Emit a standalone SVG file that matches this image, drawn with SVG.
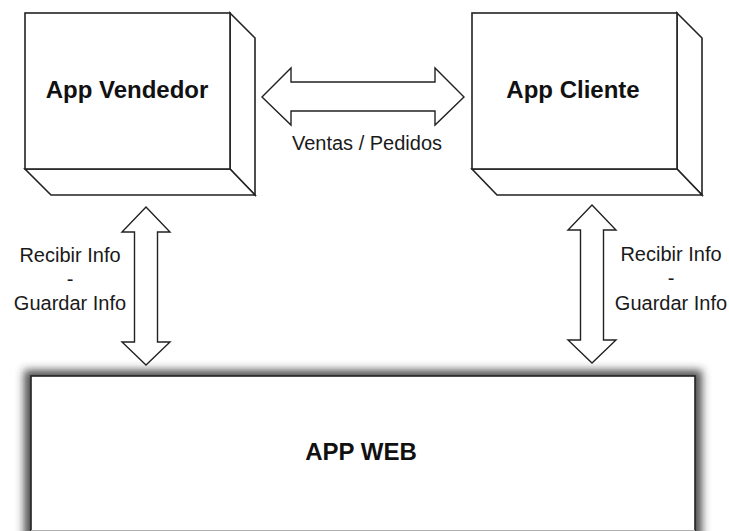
<svg xmlns="http://www.w3.org/2000/svg" width="729" height="531" viewBox="0 0 729 531">
  <style>
    .box { fill: #ffffff; stroke: #222222; stroke-width: 1.6; stroke-linejoin: miter; }
    .arrow { fill: #ffffff; stroke: #222222; stroke-width: 1.4; stroke-linejoin: miter; }
    .title { font-family: "Liberation Sans", Arial, sans-serif; font-weight: bold; font-size: 24px; fill: #111111; text-anchor: middle; }
    .label { font-family: "Liberation Sans", Arial, sans-serif; font-size: 20px; fill: #1a1a1a; text-anchor: middle; }
  </style>
  <defs>
    <filter id="softShadow" x="-10%" y="-30%" width="120%" height="160%">
      <feGaussianBlur stdDeviation="4.5"/>
    </filter>
  </defs>
  <rect width="729" height="531" fill="#ffffff"/>

  <!-- 3D node: seller app -->
  <g id="app-vendedor">
    <polygon class="box" points="230,13 255,38 255,195 230,169"/>
    <polygon class="box" points="25,169 230,169 255,195 51,195"/>
    <rect class="box" x="25" y="13" width="205" height="156"/>
    <text class="title" x="127" y="98">App Vendedor</text>
  </g>

  <!-- 3D node: client app -->
  <g id="app-cliente">
    <polygon class="box" points="677,13 702,38 702,195 677,169"/>
    <polygon class="box" points="472,169 677,169 702,195 497,195"/>
    <rect class="box" x="472" y="13" width="205" height="156"/>
    <text class="title" x="573" y="98">App Cliente</text>
  </g>

  <!-- web application block with drop shadow -->
  <g id="app-web">
    <rect x="24" y="370" width="678" height="175" fill="#333333" fill-opacity="0.85" filter="url(#softShadow)"/>
    <rect class="box" x="31" y="376" width="664" height="170"/>
    <line x1="31" y1="530.5" x2="695" y2="530.5" stroke="#b0b0b0" stroke-width="1"/>
    <text class="title" x="361" y="460">APP WEB</text>
  </g>

  <!-- block arrows between nodes -->
  <g id="connectors">
    <polygon class="arrow" points="262,97 291,68 291,82 435,82 435,68 464,97 435,125 435,111 291,111 291,125"/>
    <polygon class="arrow" points="146,207 170,232 157.5,232 157.5,342 170,342 146,365 122,342 134.5,342 134.5,232 122,232"/>
    <polygon class="arrow" points="592,205 616,230 603.5,230 603.5,340 616,340 592,363 568,340 580.5,340 580.5,230 568,230"/>
  </g>

  <!-- connector labels -->
  <g id="labels">
    <text class="label" x="367" y="150">Ventas / Pedidos</text>
    <text class="label" x="70" y="262">Recibir Info</text>
    <text class="label" x="70" y="286">-</text>
    <text class="label" x="70" y="310">Guardar Info</text>
    <text class="label" x="671" y="261">Recibir Info</text>
    <text class="label" x="671" y="285">-</text>
    <text class="label" x="671" y="310">Guardar Info</text>
  </g>
</svg>
